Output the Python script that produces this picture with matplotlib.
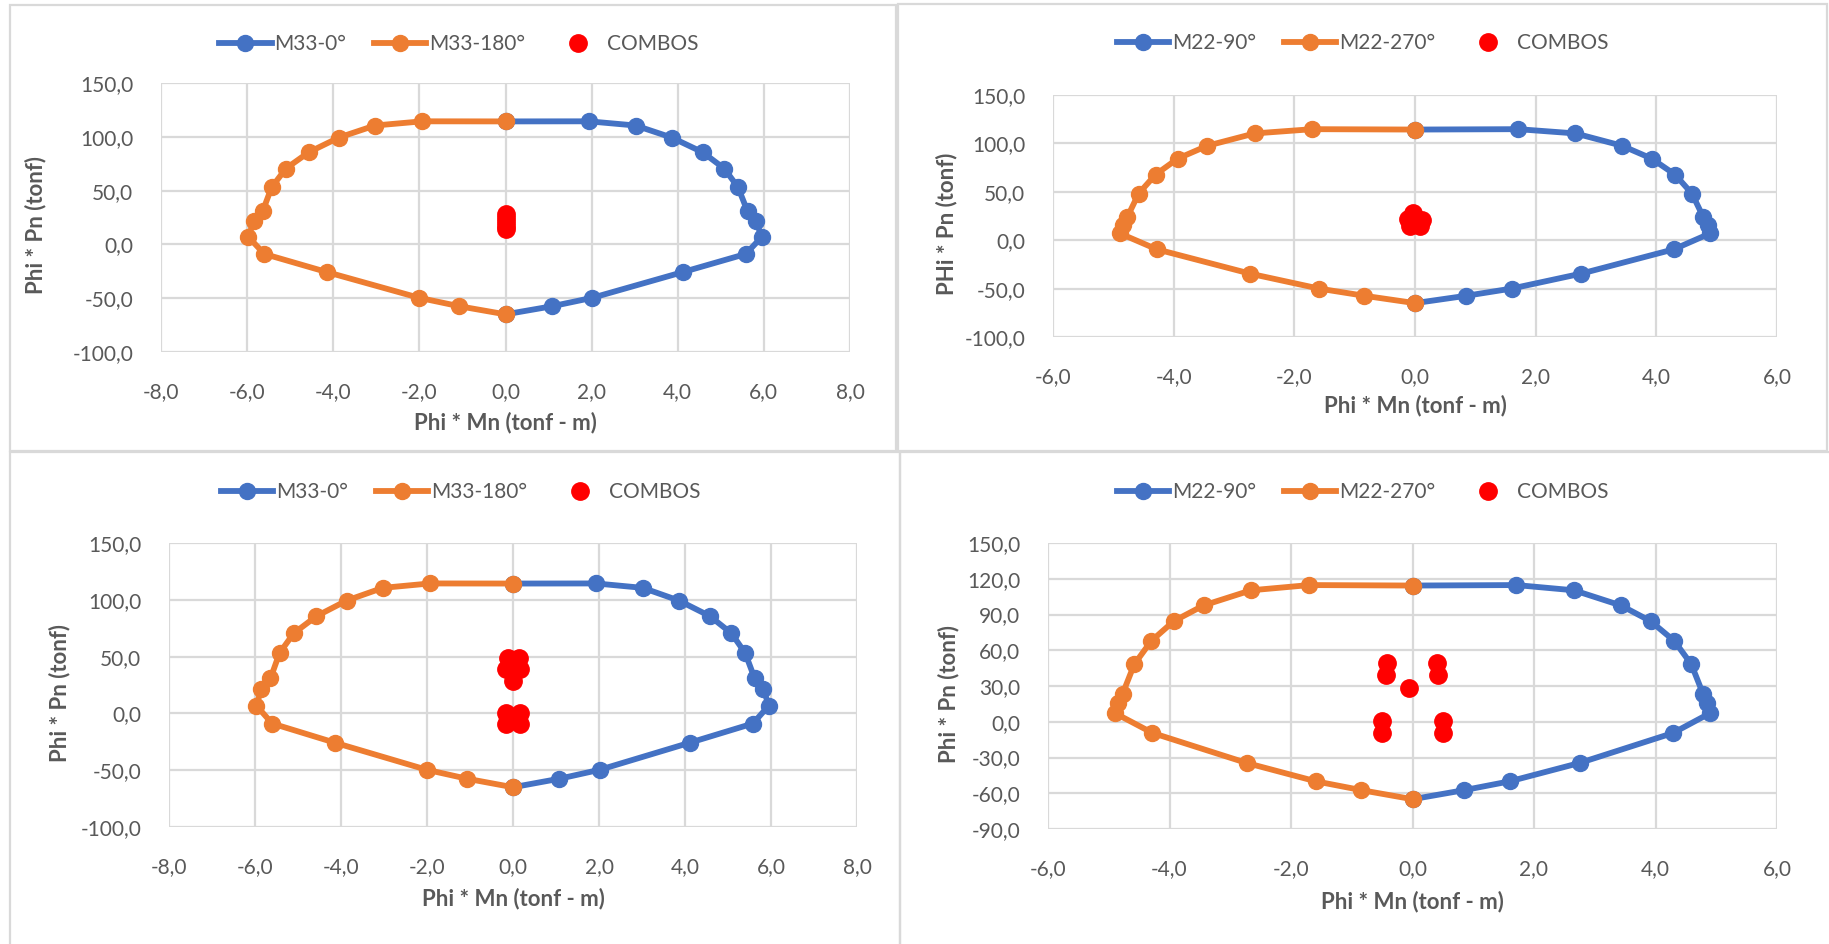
import matplotlib
matplotlib.use("Agg")
import matplotlib.pyplot as plt
from matplotlib.patches import Rectangle
from matplotlib.ticker import FuncFormatter, MultipleLocator

plt.rcParams["font.family"] = ["Lato", "DejaVu Sans"]

# %%
# Interaction curves

# M33 direction
mn_33_0 = [0.0, 1.93, 3.02, 3.86, 4.58, 5.08, 5.40, 5.62, 5.82, 5.95, 5.58, 4.12, 2.02, 1.08, 0.0]
pn_33_0 = [114.3, 114.4, 110.5, 99.3, 85.6, 70.5, 53.1, 30.8, 21.4, 6.9, -8.9, -25.7, -49.6, -57.5, -65.0]
mn_33_180 = [0.0, -1.93, -3.03, -3.87, -4.57, -5.10, -5.43, -5.64, -5.85, -5.97, -5.60, -4.15, -2.01, -1.07, 0.0]
pn_33_180 = [114.3, 114.4, 110.5, 99.3, 85.6, 70.5, 53.1, 30.8, 21.4, 6.9, -8.9, -25.7, -49.6, -57.5, -65.0]

# M22 direction
mn_22_90 = [0.0, 1.71, 2.66, 3.43, 3.92, 4.31, 4.59, 4.78, 4.85, 4.89, 4.29, 2.75, 1.60, 0.85, 0.0]
pn_22_90 = [114.3, 114.7, 110.3, 97.6, 84.4, 67.8, 48.2, 23.7, 16.0, 7.0, -9.4, -34.6, -50.0, -57.4, -65.0]
mn_22_270 = [0.0, -1.70, -2.66, -3.44, -3.93, -4.30, -4.58, -4.77, -4.84, -4.89, -4.28, -2.73, -1.59, -0.84, 0.0]
pn_22_270 = [114.3, 114.7, 110.3, 97.6, 84.4, 67.8, 48.2, 23.7, 16.0, 7.0, -9.4, -34.6, -50.0, -57.4, -65.0]

# load combinations
combo_tl_m = [0.0, 0.0, 0.0, 0.0, 0.0]
combo_tl_p = [28.0, 24.5, 21.0, 17.5, 14.0]
combo_tr_m = [-0.03, -0.12, 0.12, -0.08, 0.08]
combo_tr_p = [28.0, 22.0, 21.0, 14.5, 14.5]
combo_bl_m = [-0.12, 0.14, -0.17, 0.16, 0.0, -0.17, 0.17, -0.17, 0.17]
combo_bl_p = [49.0, 49.0, 39.5, 39.5, 28.5, 0.5, 0.5, -9.5, -9.5]
combo_br_m = [-0.42, 0.41, -0.44, 0.42, -0.06, -0.50, 0.50, -0.50, 0.50]
combo_br_p = [49.5, 49.5, 39.3, 39.3, 28.6, 0.8, 0.8, -9.6, -9.6]

W, H = 1829, 944
BLUE, ORANGE, RED = "#4472C4", "#ED7D31", "#FF0000"
GREY_TXT, GRID = "#595959", "#D9D9D9"

fig = plt.figure(figsize=(W / 100, H / 100), dpi=100)

# chart frames
for l, t, r, b in [(10, 5, 896, 451), (898, 4, 1827, 451),
                   (10, 452, 900, 950), (900, 452, 1835, 950)]:
    fig.add_artist(Rectangle((l / W, 1 - b / H), (r - l) / W, (b - t) / H,
                             transform=fig.transFigure, fill=False,
                             edgecolor=GRID, lw=1.6))

comma = FuncFormatter(lambda v, pos: f"{v:.1f}".replace(".", ","))

panels = [
    dict(box=(161, 83, 850, 352), xlim=(-8, 8), ylim=(-100, 150), ystep=50,
         blue=(mn_33_0, pn_33_0), orange=(mn_33_180, pn_33_180),
         names=("M33-0°", "M33-180°"), combo=(combo_tl_m, combo_tl_p),
         ylabel="Phi * Pn (tonf)", xl_y=423, yl_x=36, leg=(459, 44)),
    dict(box=(1053, 95, 1777, 337), xlim=(-6, 6), ylim=(-100, 150), ystep=50,
         blue=(mn_22_90, pn_22_90), orange=(mn_22_270, pn_22_270),
         names=("M22-90°", "M22-270°"), combo=(combo_tr_m, combo_tr_p),
         ylabel="PHi * Pn (tonf)", xl_y=406, yl_x=947, leg=(1363, 43)),
    dict(box=(169, 543, 857, 827), xlim=(-8, 8), ylim=(-100, 150), ystep=50,
         blue=(mn_33_0, pn_33_0), orange=(mn_33_180, pn_33_180),
         names=("M33-0°", "M33-180°"), combo=(combo_bl_m, combo_bl_p),
         ylabel="Phi * Pn (tonf)", xl_y=899, yl_x=60, leg=(461, 492)),
    dict(box=(1048, 543, 1777, 829), xlim=(-6, 6), ylim=(-90, 150), ystep=30,
         blue=(mn_22_90, pn_22_90), orange=(mn_22_270, pn_22_270),
         names=("M22-90°", "M22-270°"), combo=(combo_br_m, combo_br_p),
         ylabel="Phi * Pn (tonf)", xl_y=902, yl_x=949, leg=(1363, 492)),
]

for p in panels:
    l, t, r, b = p["box"]
    ax = fig.add_axes([l / W, 1 - b / H, (r - l) / W, (b - t) / H])
    ax.plot(*p["blue"], color=BLUE, lw=4.2, marker="o", ms=11.5,
            label=p["names"][0], zorder=3)
    ax.plot(*p["orange"], color=ORANGE, lw=4.2, marker="o", ms=11.5,
            label=p["names"][1], zorder=4)
    ax.plot(*p["combo"], color=RED, ls="none", marker="o", ms=12.5,
            label="COMBOS", zorder=5)

    ax.set_xlim(*p["xlim"])
    ax.set_ylim(*p["ylim"])
    ax.xaxis.set_major_locator(MultipleLocator(2))
    ax.yaxis.set_major_locator(MultipleLocator(p["ystep"]))
    ax.xaxis.set_major_formatter(comma)
    ax.yaxis.set_major_formatter(comma)
    ax.grid(True, color=GRID, lw=1.6, zorder=0)
    ax.set_axisbelow(True)
    for s in ax.spines.values():
        s.set_visible(False)
    ax.tick_params(length=0, labelsize=15, labelcolor=GREY_TXT)
    ax.tick_params(axis="x", pad=22)
    ax.tick_params(axis="y", pad=20)

    fig.text((l + r) / 2 / W, 1 - p["xl_y"] / H, "Phi * Mn (tonf - m)",
             ha="center", va="center", fontsize=16, fontweight="bold",
             color=GREY_TXT)
    fig.text(p["yl_x"] / W, 1 - ((t + b) / 2 + 8) / H, p["ylabel"],
             ha="center", va="center", rotation=90, fontsize=16,
             fontweight="bold", color=GREY_TXT)

    ax.legend(loc="center", bbox_to_anchor=(p["leg"][0] / W, 1 - p["leg"][1] / H),
              bbox_transform=fig.transFigure, ncol=3, frameon=False,
              fontsize=15, labelcolor=GREY_TXT, handlelength=2.5,
              handletextpad=0.15, columnspacing=1.3)

fig.savefig("out.png", dpi=100, facecolor="white")
